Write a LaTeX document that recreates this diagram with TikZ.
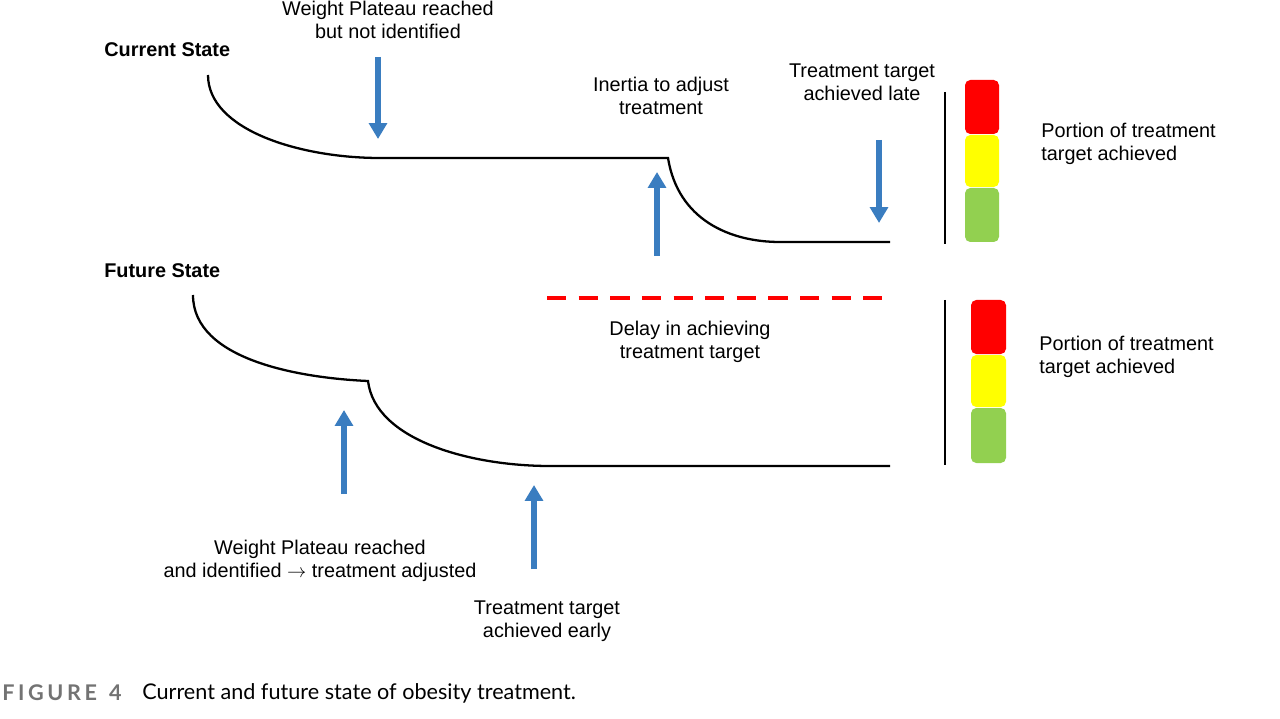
\documentclass[tikz,border=0pt]{standalone}
\usepackage{fontspec}
\setmainfont{Liberation Sans}
\newfontfamily\capfont{Lato}
\usetikzlibrary{arrows.meta}
\definecolor{ablue}{HTML}{3A7DC0}
\definecolor{lred}{HTML}{FF0000}
\definecolor{lyel}{HTML}{FFFF00}
\definecolor{lgrn}{HTML}{92D050}
\tikzset{
 crv/.style={line width=1.3pt,black},
 barr/.style={line width=3.2pt,ablue,-{Triangle[length=9pt,width=10pt]}},
 lbl/.style={align=center,font=\fontsize{11.3}{13.3}\selectfont,inner sep=0pt},
 lamp/.style={rounded corners=3pt,draw=none},
}
\begin{document}
\begin{tikzpicture}[x=0.02cm,y=-0.02cm]
\useasboundingbox (0,0) rectangle (1280,719);
\coordinate (c0) at (208,75);
\coordinate (c1) at (380,158);
\coordinate (c2) at (668,158);
\coordinate (c3) at (780,242);
\coordinate (c4) at (890,242);
\draw[crv] (c0) .. controls (208,130) and (300,158) .. (c1) -- (c2) .. controls (678,220) and (730,242) .. (c3) -- (c4);
\coordinate (f0) at (193,295);
\coordinate (f1) at (368,381);
\coordinate (f2) at (550,466);
\coordinate (f3) at (890,466);
\draw[crv] (f0) .. controls (193,360) and (300,378) .. (f1) .. controls (375,440) and (470,466) .. (f2) -- (f3);
\coordinate (a1s) at (378,57); \coordinate (a1e) at (378,139);
\coordinate (a2s) at (657,256); \coordinate (a2e) at (657,172);
\coordinate (a3s) at (879,140); \coordinate (a3e) at (879,223);
\coordinate (a4s) at (344,494); \coordinate (a4e) at (344,410);
\coordinate (a5s) at (534,569); \coordinate (a5e) at (534,485);
\foreach \s/\e in {a1s/a1e,a2s/a2e,a3s/a3e,a4s/a4e,a5s/a5e} \draw[barr] (\s) -- (\e);
\coordinate (d0) at (547,298); \coordinate (d1) at (882,298);
\draw[lred,line width=2.6pt,dash pattern=on 11pt off 7pt] (d0) -- (d1);
\coordinate (v0) at (945,92); \coordinate (v1) at (945,244);
\coordinate (v2) at (945,300); \coordinate (v3) at (945,465);
\draw[line width=1.2pt] (v0) -- (v1);
\draw[line width=1.2pt] (v2) -- (v3);
\fill[lamp,lred] (965,80) rectangle (999,134);
\fill[lamp,lyel] (965,135) rectangle (999,187);
\fill[lamp,lgrn] (965,188) rectangle (999,242);
\fill[lamp,lred] (971,300) rectangle (1006,354);
\fill[lamp,lyel] (971,355) rectangle (1006,407);
\fill[lamp,lgrn] (971,408) rectangle (1006,463);
\node[lbl,anchor=west,font=\fontsize{11.3}{13.3}\selectfont\bfseries] (cs) at (104,50) {Current State};
\node[lbl,anchor=west,font=\fontsize{11.3}{13.3}\selectfont\bfseries] (fs) at (104,271) {Future State};
\node[lbl] (t1) at (388,20) {Weight Plateau reached\\but not identified};
\node[lbl] (t2) at (661,96) {Inertia to adjust\\treatment};
\node[lbl] (t3) at (862,82) {Treatment target\\achieved late};
\node[lbl,align=left,anchor=west] (t4) at (1041,144) {Portion of treatment\\target achieved};
\node[lbl,align=left,anchor=west] (t5) at (1039,357) {Portion of treatment\\target achieved};
\node[lbl] (t6) at (690,342) {Delay in achieving\\treatment target};
\node[lbl] (t7) at (320,561) {Weight Plateau reached\\and identified $\rightarrow$ treatment adjusted};
\node[lbl] (t8) at (547,621) {Treatment target\\achieved early};
\node[anchor=west,inner sep=0pt,font=\capfont\fontsize{12.3}{14}\selectfont\bfseries,text=black!55] (fig) at (2,693) {F\,I\,G\,U\,R\,E\;\;4};
\node[anchor=west,inner sep=0pt,font=\capfont\fontsize{12.3}{14}\selectfont] (cap) at (142,693) {Current and future state of obesity treatment.};
\end{tikzpicture}
\end{document}
